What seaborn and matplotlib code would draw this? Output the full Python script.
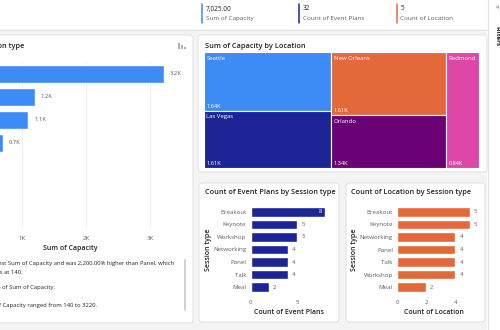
import matplotlib
matplotlib.use("Agg")
import matplotlib.pyplot as plt
from matplotlib.patches import FancyBboxPatch, Rectangle
import seaborn as sns
import pandas as pd

sns.set_theme(style="white")
plt.rcParams["font.family"] = ["Open Sans", "DejaVu Sans"]

# ---- data ----
session_types = ["Breakout", "Keynote", "Workshop", "Networking", "Talk", "Meal", "Panel"]
capacity_by_session = [3220, 1200, 1100, 700, 345, 320, 140]

locations = ["Seattle", "Las Vegas", "New Orleans", "Orlando", "Redmond"]
capacity_by_location = [1638, 1608, 1607, 1336, 836]
treemap_columns = [["Seattle", "Las Vegas"], ["New Orleans", "Orlando"], ["Redmond"]]
location_colors = ["#3D8BF5", "#1C2496", "#E4693A", "#6A0276", "#DD47A8"]

plans_types = ["Breakout", "Keynote", "Workshop", "Networking", "Panel", "Talk", "Meal"]
plans_counts = [8, 5, 5, 4, 4, 4, 2]

loc_types = ["Breakout", "Keynote", "Networking", "Panel", "Talk", "Workshop", "Meal"]
loc_counts = [5, 5, 4, 4, 4, 4, 2]

kpi_values = ["7,025.00", "32", "5"]
kpi_labels = ["Sum of Capacity", "Count of Event Plans", "Count of Location"]
kpi_colors = ["#3D8BF5", "#1C2496", "#E4693A"]

narrative = [
    "Breakout had the highest Sum of Capacity and was 2,200.00% higher than Panel, which",
    "was at 140.",
    "Breakout accounted for 45.84% of Sum of Capacity.",
    "Across all 7 Session type, Sum of Capacity ranged from 140 to 3220.",
]

W, H = 500, 330
fig = plt.figure(figsize=(W / 100, H / 100), dpi=100)
fig.patch.set_facecolor("#F4F4F4")

bg = fig.add_axes([0, 0, 1, 1], zorder=0)
bg.set_xlim(0, W)
bg.set_ylim(H, 0)
bg.axis("off")

TITLE = "#252423"
GREY = "#605E5C"


def px_axes(x, y, w, h):
    return fig.add_axes([x / W, 1 - (y + h) / H, w / W, h / H], zorder=2)


def card(x, y, w, h):
    bg.add_patch(FancyBboxPatch((x, y), w, h, boxstyle="round,pad=0,rounding_size=3",
                                fc="white", ec="#E3E3E3", lw=0.8, zorder=1))


# top strip and filter pane
bg.add_patch(Rectangle((0, 0), 487, 29, fc="white", ec="none", zorder=1))
bg.plot([0, 487], [29.5, 29.5], color="#E6E6E6", lw=0.8, zorder=2)
bg.add_patch(Rectangle((487, 0), 13, H, fc="white", ec="none", zorder=1))
bg.plot([487.5, 487.5], [0, H], color="#E1E1E1", lw=0.8, zorder=2)
bg.text(497, 8, "«", fontsize=5, color=GREY, ha="center", va="center", zorder=3)
bg.text(496.5, 36, "Filters", fontsize=4.6, color=TITLE, rotation=-90, ha="center",
        va="center", fontweight="bold", zorder=3)

# KPI strip
for i, (v, lab, c) in enumerate(zip(kpi_values, kpi_labels, kpi_colors)):
    x0 = 201.5 + i * 97.5
    bg.plot([x0, x0], [3.5, 23], color=c, lw=1.1, zorder=3)
    bg.text(x0 + 4, 9, v, fontsize=4.7, color=TITLE, va="center", zorder=3)
    bg.text(x0 + 4, 18.5, lab, fontsize=4.6, color=GREY, va="center", zorder=3)

# cards
card(-6, 35, 199, 288)
card(198, 35, 289, 137)
card(199, 183, 140, 139)
card(346, 183, 139, 139)

# ---- left: Sum of Capacity by Session type ----
bg.text(24, 46, "Sum of Capacity by Session type", fontsize=5.3, color=TITLE,
        ha="right", va="center", fontweight="semibold", zorder=3)
# drill icon
bg.add_patch(Rectangle((178, 43), 2.2, 6, fc="#B3B0AD", ec="none", zorder=3))
bg.add_patch(Rectangle((180.8, 45), 2.2, 4, fc="#B3B0AD", ec="none", zorder=3))
bg.add_patch(Rectangle((183.6, 46.5), 2.2, 2.5, fc="#B3B0AD", ec="none", zorder=3))

df_cap = pd.DataFrame({"Session type": session_types, "Sum of Capacity": capacity_by_session})
ax1 = px_axes(-42, 62, 224, 166)
sns.barplot(data=df_cap, x="Sum of Capacity", y="Session type", orient="h",
            color="#3D8BF5", width=0.78, saturation=1, ax=ax1, zorder=3)
ax1.set_xlim(0, 3500)
ax1.set_ylim(6.7, -0.5)
ax1.set_xticks([1000, 2000, 3000])
ax1.set_xticklabels(["1K", "2K", "3K"])
ax1.xaxis.grid(True, color="#EDEDED", lw=0.7)
ax1.set_axisbelow(True)
ax1.tick_params(axis="x", labelsize=4.4, labelcolor=GREY, length=0, pad=5.5)
ax1.tick_params(axis="y", labelsize=4.4, labelcolor=GREY, length=0)
ax1.set_xlabel("Sum of Capacity", fontsize=5, color=TITLE, labelpad=3, fontweight="semibold")
ax1.set_ylabel("")
ax1.set_facecolor("none")
for s in ax1.spines.values():
    s.set_visible(False)
for i, v in enumerate(capacity_by_session):
    ax1.text(v + 90, i, f"{v / 1000:.1f}K", fontsize=4.2, color=GREY, va="center")

# narrative text with scroll bar
for y, line, xr in zip([263, 272, 288, 305], narrative, [174, 23, 55, 97]):
    bg.text(xr, y, line, fontsize=4.2, color=TITLE, ha="right", va="center", zorder=3)
bg.add_patch(FancyBboxPatch((184.2, 259), 1.6, 52, boxstyle="round,pad=0,rounding_size=0.8",
                            fc="#C8C8C8", ec="none", zorder=3))

# ---- treemap: Sum of Capacity by Location ----
bg.text(205, 46, "Sum of Capacity by Location", fontsize=5.3, color=TITLE,
        va="center", fontweight="semibold", zorder=3)
tx, ty, tw, th = 204, 52, 275, 116
value_of = dict(zip(locations, capacity_by_location))
color_of = dict(zip(locations, location_colors))
total = sum(capacity_by_location)
cx = tx
for col in treemap_columns:
    col_sum = sum(value_of[n] for n in col)
    cw = tw * col_sum / total
    cy = ty
    for name in col:
        ch = th * value_of[name] / col_sum
        bg.add_patch(Rectangle((cx, cy), cw, ch, fc=color_of[name], ec="white", lw=0.8, zorder=3))
        bg.text(cx + 2.5, cy + 6, name, fontsize=4.3, color="white", va="center", zorder=4)
        bg.text(cx + 2.5, cy + ch - 4.5, f"{value_of[name] / 1000:.2f}K", fontsize=4.1,
                color="white", va="center", zorder=4)
        cy += ch
    cx += cw


# ---- small bar charts ----
def count_chart(x_left, px_per_unit, xmax, ticks, types, counts, color, xlabel, title,
                title_x, ylabel_x, inside_top=False):
    bg.text(title_x, 192, title, fontsize=5.3, color=TITLE, va="center",
            fontweight="semibold", zorder=3)
    df = pd.DataFrame({"Session type": types, xlabel: counts})
    ax = px_axes(x_left, 205.5, px_per_unit * xmax, 88)
    sns.barplot(data=df, x=xlabel, y="Session type", orient="h", color=color,
                width=0.76, saturation=1, ax=ax, zorder=3)
    ax.set_xlim(0, xmax)
    ax.set_ylim(6.5, -0.5)
    ax.set_xticks(ticks)
    ax.tick_params(axis="x", labelsize=4.4, labelcolor=GREY, length=0, pad=4.5)
    ax.tick_params(axis="y", labelsize=4.4, labelcolor=GREY, length=0, pad=3)
    ax.set_xlabel(xlabel, fontsize=5, color=TITLE, labelpad=3, fontweight="semibold")
    ax.set_ylabel("")
    ax.set_facecolor("none")
    for s in ax.spines.values():
        s.set_visible(False)
    bg.text(ylabel_x, 249.5, "Session type", fontsize=5, color=TITLE, rotation=90,
            ha="center", va="center", fontweight="semibold", zorder=3)
    top = max(counts)
    for i, v in enumerate(counts):
        if inside_top and v == top:
            ax.text(v - 0.35, i, str(v), fontsize=4.3, color="white", va="center", ha="right")
        else:
            ax.text(v + 4 / px_per_unit, i, str(v), fontsize=4.3, color=GREY, va="center")
    return ax


count_chart(250.5, 9.35, 8.2, [0, 5], plans_types, plans_counts, "#1C2496",
            "Count of Event Plans", "Count of Event Plans by Session type", 205, 208.5,
            inside_top=True)
count_chart(397, 14.6, 5.1, [0, 2, 4], loc_types, loc_counts, "#E4693A",
            "Count of Location", "Count of Location by Session type", 351, 355)

fig.savefig("out.png", dpi=100, facecolor=fig.get_facecolor())
